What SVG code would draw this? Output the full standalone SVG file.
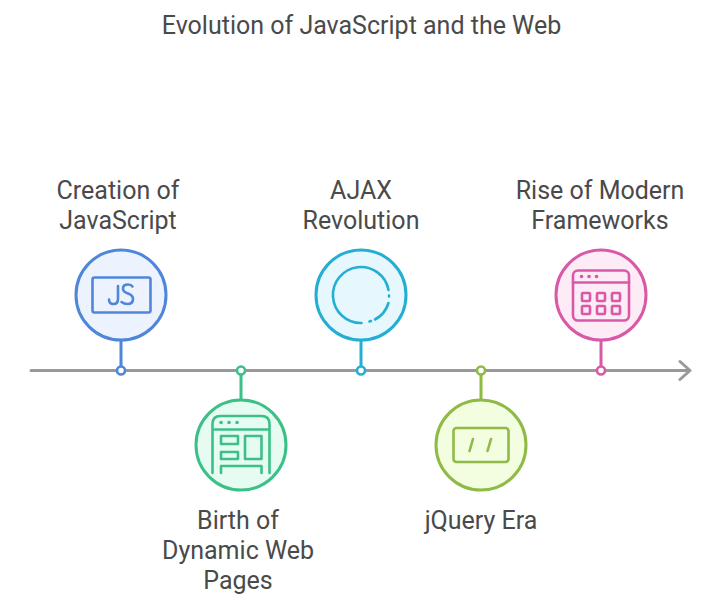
<svg xmlns="http://www.w3.org/2000/svg" width="723" height="604" viewBox="0 0 723 604">
<style>
text{font-family:Roboto,"Liberation Sans",sans-serif;font-size:25px;fill:#4a4a4a;text-anchor:middle}
.s{fill:none;stroke-width:3;stroke-linecap:round;stroke-linejoin:round}
.i{fill:none;stroke-width:2.600;stroke-linecap:round;stroke-linejoin:round}
.d{fill:none;stroke-width:3.600;stroke-linecap:round}
.blue{stroke:#4f86d9}.green{stroke:#3cc088}.cyan{stroke:#25aed4}.lime{stroke:#8fba45}.pink{stroke:#d958a8}
.dot{fill:#fff;stroke-width:2.600}
</style>
<rect width="723" height="604" fill="#fff"/>
<text x="361.500" y="33.500">Evolution of JavaScript and the Web</text>
<g id="connectors">
<path d="M31 370.500H690M680 361.500l10 9-10 9" fill="none" stroke="#999" stroke-width="3" stroke-linecap="round" stroke-linejoin="round"/>
<path class="s blue" d="M121 340V366"/>
<path class="s green" d="M241 374V400"/>
<path class="s cyan" d="M361 340V366"/>
<path class="s lime" d="M481 374V400"/>
<path class="s pink" d="M601 340V366"/>
<circle class="dot blue" cx="121" cy="370.500" r="4"/>
<circle class="dot green" cx="241" cy="370.500" r="4"/>
<circle class="dot cyan" cx="361" cy="370.500" r="4"/>
<circle class="dot lime" cx="481" cy="370.500" r="4"/>
<circle class="dot pink" cx="601" cy="370.500" r="4"/>
</g>
<g id="node-creation">
<circle class="s blue" cx="121" cy="295" r="45" style="fill:#edf3fe"/>
<rect class="i blue" x="92.500" y="277.500" width="58" height="35" rx="2"/>
<path class="i blue" d="M118 286V299c0 3.500-2 5-4.500 5S109 302.500 109 299.500M121.500 302c2 1.500 3.500 2 6 2 3.500 0 5.500-2 5.500-5s-2-4.500-5-5.500-5-2.500-5-5 2-4 5-4c2 0 3.500.5 4.500 2"/>
<text x="118" y="199">Creation of</text>
<text x="118" y="229">JavaScript</text>
</g>
<g id="node-birth">
<circle class="s green" cx="241" cy="445" r="45" style="fill:#e6fbf1"/>
<path class="i green" d="M212.500 473V424q0-8 8-8h41q8 0 8 8v49M212.500 429.500H269.500"/>
<path class="i green" d="M221 473V466H261.500V473"/>
<rect class="i green" x="221" y="436" width="17" height="8"/>
<rect class="i green" x="221" y="452" width="17" height="7"/>
<rect class="i green" x="245" y="436" width="16.500" height="23"/>
<path class="d green" d="M221 422.500h.1M229 422.500h.1M237 422.500h.1"/>
<text x="238" y="529">Birth of</text>
<text x="238" y="559">Dynamic Web</text>
<text x="238" y="589">Pages</text>
</g>
<g id="node-ajax">
<circle class="s cyan" cx="361" cy="295" r="45" style="fill:#e6f8fe"/>
<path class="i cyan" d="M361.500 323A28 28 0 1 1 388.500 290M389 295.500v1M388.500 303A28 28 0 0 1 375 319.500M369.500 321.500l1.500-.5"/>
<text x="361" y="199">AJAX</text>
<text x="361" y="229">Revolution</text>
</g>
<g id="node-jquery">
<circle class="s lime" cx="481" cy="445" r="45" style="fill:#f3fde0"/>
<rect class="i lime" x="453.500" y="428" width="55" height="34" rx="3"/>
<path class="i lime" d="M473 439l-3.500 12M491 439l-3.500 12"/>
<text x="481" y="529">jQuery Era</text>
</g>
<g id="node-rise">
<circle class="s pink" cx="601" cy="295" r="45" style="fill:#fdebf6"/>
<rect class="i pink" x="573" y="270.500" width="56" height="50" rx="5"/>
<path class="i pink" d="M573 282.500H629"/>
<path class="d pink" d="M581.500 276.500h.1M589 276.500h.1M596.500 276.500h.1"/>
<rect class="i pink" x="582" y="293" width="8" height="8" rx="1"/>
<rect class="i pink" x="597" y="293" width="8" height="8" rx="1"/>
<rect class="i pink" x="612" y="293" width="8" height="8" rx="1"/>
<rect class="i pink" x="582" y="306" width="8" height="8" rx="1"/>
<rect class="i pink" x="597" y="306" width="8" height="8" rx="1"/>
<rect class="i pink" x="612" y="306" width="8" height="8" rx="1"/>
<text x="600" y="199">Rise of Modern</text>
<text x="600" y="229">Frameworks</text>
</g>
</svg>
